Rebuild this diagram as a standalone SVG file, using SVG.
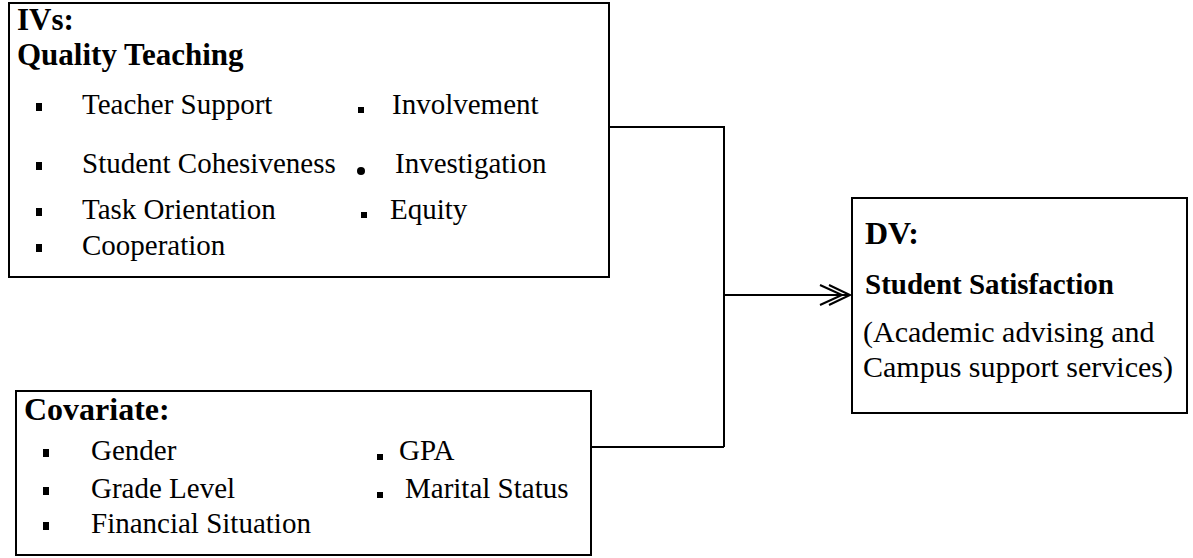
<svg xmlns="http://www.w3.org/2000/svg" width="1193" height="558" viewBox="0 0 1193 558">
<style>
.box{fill:#fff;stroke:#000;stroke-width:2}
.t{font-family:"Liberation Serif","Times New Roman",serif;font-size:29px;fill:#000}
.d{font-family:"Liberation Serif","Times New Roman",serif;font-size:30px;fill:#000}
.h{font-family:"Liberation Serif","Times New Roman",serif;font-weight:bold;font-size:32px;fill:#000}
.q{font-family:"Liberation Serif","Times New Roman",serif;font-weight:bold;font-size:31px;fill:#000}
.s{font-family:"Liberation Serif","Times New Roman",serif;font-weight:bold;font-size:29px;fill:#000}
.b{fill:#000}
.c{fill:none;stroke:#000;stroke-width:2}
</style>
<rect width="1193" height="558" fill="#fff"/>
<g id="connectors">
<polyline class="c" points="609,127 724,127 724,447"/>
<polyline class="c" points="591,447 724,447"/>
<line class="c" x1="724" y1="295" x2="850" y2="295"/>
<path class="c" d="M820,285 L842,295 L820,305 M829,285 L850,295 L829,305"/>
</g>
<g id="ivs">
<rect class="box" x="9" y="3" width="600" height="274"/>
<text class="q" x="17" y="30">IVs:</text>
<text class="q" x="17" y="65">Quality Teaching</text>
<rect class="b" x="36" y="103" width="6" height="8"/>
<text class="t" x="82" y="114">Teacher Support</text>
<rect class="b" x="358" y="107" width="6" height="6"/>
<text class="t" x="392" y="114">Involvement</text>
<rect class="b" x="36" y="162" width="6" height="8"/>
<text class="t" x="82" y="173">Student Cohesiveness</text>
<circle class="b" cx="361" cy="171" r="4"/>
<text class="t" x="395" y="173">Investigation</text>
<rect class="b" x="36" y="208" width="6" height="8"/>
<text class="t" x="82" y="219">Task Orientation</text>
<rect class="b" x="361" y="212" width="6" height="6"/>
<text class="t" x="390" y="219">Equity</text>
<rect class="b" x="36" y="244" width="6" height="8"/>
<text class="t" x="82" y="255">Cooperation</text>
</g>
<g id="covariate">
<rect class="box" x="16" y="391" width="575" height="164"/>
<text class="h" x="24" y="420">Covariate:</text>
<rect class="b" x="43" y="449" width="6" height="8"/>
<text class="t" x="91" y="460">Gender</text>
<rect class="b" x="377" y="454" width="6" height="6"/>
<text class="t" x="399" y="460">GPA</text>
<rect class="b" x="43" y="487" width="6" height="8"/>
<text class="t" x="91" y="498">Grade Level</text>
<rect class="b" x="377" y="492" width="6" height="6"/>
<text class="t" x="405" y="498">Marital Status</text>
<rect class="b" x="43" y="522" width="6" height="8"/>
<text class="t" x="91" y="533">Financial Situation</text>
</g>
<g id="dv">
<rect class="box" x="852" y="198" width="335" height="215"/>
<text class="h" x="865" y="244">DV:</text>
<text class="s" x="865" y="294">Student Satisfaction</text>
<text class="d" x="863" y="342">(Academic advising and</text>
<text class="d" x="863" y="377">Campus support services)</text>
</g>
</svg>
